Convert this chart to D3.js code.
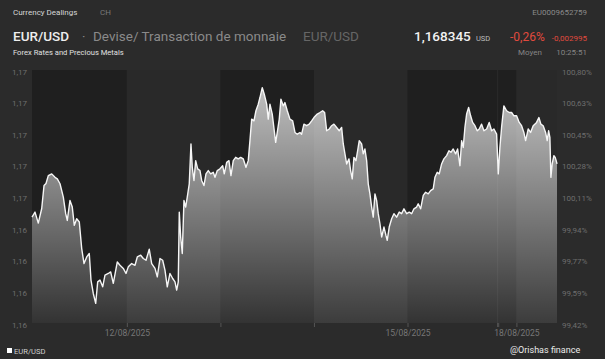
<!DOCTYPE html>
<html><head><meta charset="utf-8">
<script src="https://cdn.jsdelivr.net/npm/d3@7"></script>
<style>
html,body{margin:0;padding:0;background:#2b2b2b;}
svg{display:block;font-family:Roboto,"Open Sans",sans-serif;}
</style>
</head><body>
<svg id="chart" width="605" height="359"></svg>
<script>
// ---------------- data ----------------
const sessions = [["2025-08-10T23:40","2025-08-15T23:00"],["2025-08-17T19:20","2025-08-18T10:25"]];
const sessionDays = [["2025-08-11","2025-08-12","2025-08-13","2025-08-14","2025-08-15"],["2025-08-17","2025-08-18"]];
const tickLabelDays = ["12/08/2025","15/08/2025","18/08/2025"];
const basePrice = 1.165;
const pctDomain = [99.42, 100.80];
const pctLabels = ["99,42%","99,59%","99,77%","99,94%","100,11%","100,28%","100,45%","100,63%","100,80%"];
// hours elapsed since 11/08/2025 00:00
const hoursFromAug11 = [
-0.33,0.44,1.28,2.16,2.75,3.26,3.85,4.72,5.57,6.16,
6.85,7.70,8.31,8.72,9.41,10.00,10.52,11.13,11.80,12.42,
13.01,13.70,14.36,14.80,15.39,16.01,16.52,17.11,17.80,18.39,
19.24,19.85,20.52,21.55,22.24,23.09,23.78,24.37,25.24,26.09,
26.68,27.55,28.22,28.91,29.75,30.37,31.22,31.81,32.50,33.19,
33.78,34.37,35.06,35.76,36.35,36.78,37.19,37.45,37.81,38.22,
38.65,39.09,39.50,40.01,40.45,40.78,41.22,41.66,42.17,42.76,
43.19,43.78,44.30,44.89,45.50,46.17,46.61,47.20,47.89,48.58,
48.99,49.61,50.20,50.71,51.30,51.92,52.58,53.20,53.87,54.56,
55.15,55.58,56.02,56.61,57.12,57.71,58.15,58.74,59.25,59.87,
60.28,60.71,61.30,61.82,62.18,62.59,63.10,63.53,64.13,64.56,
65.15,65.84,66.54,67.13,67.72,68.41,68.84,69.43,70.13,70.79,
71.41,72.00,72.85,73.54,74.23,74.74,75.26,75.92,76.54,77.13,
77.82,78.49,79.10,79.52,79.95,80.39,80.98,81.41,81.82,82.26,
82.77,83.21,83.62,84.23,84.65,85.08,85.52,85.93,86.36,86.80,
87.21,87.65,88.08,88.49,88.93,89.37,89.96,90.47,90.80,91.31,
91.93,92.52,93.21,93.88,94.49,95.09,95.78,96.44,97.06,97.65,
98.34,98.75,99.37,100.04,100.65,101.32,101.93,102.60,103.04,103.63,
104.14,104.75,105.34,106.04,106.63,107.14,107.73,108.35,108.86,109.45,
109.89,110.30,110.73,111.17,111.68,112.19,112.71,113.30,113.89,114.40,
115.01,115.60,116.30,116.96,117.58,118.17,118.86,
163.35,163.77,164.20,164.79,165.49,166.15,166.77,167.36,168.05,168.72,
169.33,169.92,170.36,171.03,171.64,172.31,173.18,173.77,174.28,174.87,
175.49,175.90,176.26,176.59,176.85,177.18,177.62,177.95,178.21,178.42
];
const eurusd = [
1.16497,1.16529,1.16459,1.16552,1.16698,1.16711,1.16761,1.16772,1.16750,1.16740,
1.16709,1.16624,1.16519,1.16476,1.16603,1.16561,1.16445,1.16487,1.16466,1.16297,
1.16202,1.16244,1.16266,1.16097,1.16012,1.15949,1.16086,1.16097,1.16054,1.16128,
1.16139,1.16149,1.16076,1.16212,1.16191,1.16171,1.16139,1.16181,1.16202,1.16191,
1.16244,1.16255,1.16234,1.16223,1.16293,1.16202,1.16171,1.16117,1.16234,1.16223,
1.16160,1.16054,1.16139,1.16107,1.16086,1.16033,1.16086,1.16529,1.16371,1.16266,
1.16603,1.16561,1.16624,1.16709,1.16962,1.16814,1.16730,1.16856,1.16804,1.16793,
1.16730,1.16698,1.16772,1.16793,1.16772,1.16782,1.16750,1.16793,1.16804,1.16824,
1.16772,1.16845,1.16856,1.16761,1.16856,1.16877,1.16867,1.16877,1.16867,1.16814,
1.16856,1.16983,1.17120,1.17109,1.17173,1.17215,1.17257,1.17320,1.17278,1.17215,
1.17120,1.17215,1.17152,1.17046,1.16972,1.17035,1.17120,1.17247,1.17204,1.17225,
1.17173,1.17120,1.17109,1.17035,1.17024,1.17035,1.17024,1.17088,1.17078,1.17088,
1.17109,1.17130,1.17152,1.17162,1.17173,1.17162,1.17046,1.17057,1.17078,1.17088,
1.17067,1.17046,1.17067,1.16962,1.16899,1.16835,1.16867,1.16793,1.16740,1.16877,
1.16856,1.16919,1.16983,1.16962,1.16899,1.16930,1.16856,1.16709,1.16645,1.16561,
1.16497,1.16645,1.16603,1.16519,1.16455,1.16371,1.16434,1.16381,1.16350,1.16434,
1.16487,1.16519,1.16497,1.16529,1.16519,1.16550,1.16519,1.16529,1.16519,1.16550,
1.16561,1.16582,1.16550,1.16635,1.16655,1.16645,1.16666,1.16677,1.16750,1.16782,
1.16772,1.16835,1.16867,1.16888,1.16919,1.16909,1.16930,1.16899,1.16930,1.16824,
1.16983,1.16940,1.17067,1.17152,1.17194,1.17141,1.17099,1.17078,1.17046,1.17057,
1.17088,1.17046,1.17057,1.17099,1.17046,1.17057,1.17025,
1.16772,1.16940,1.17067,1.17204,1.17173,1.17162,1.17162,1.17141,1.17141,1.17099,
1.17078,1.17035,1.16983,1.17057,1.17035,1.17078,1.17099,1.17130,1.17088,1.17078,
1.17035,1.16983,1.17046,1.17004,1.16750,1.16835,1.16888,1.16877,1.16856,1.16835
];

// ---------------- layout ----------------
const W = 605, H = 359;
const M = {left: 32, right: 557, top: 70, bottom: 323};
const svg = d3.select("#chart");
svg.append("rect").attr("width", W).attr("height", H).attr("fill", "#2b2b2b");

// trading-time (weekend compressed)
const HOUR = 3600e3, GAP = 0.27;
const parseT = d3.utcParse("%Y-%m-%dT%H:%M");
const parseD = d3.utcParse("%Y-%m-%d");
const S = sessions.map(([a, b]) => ({start: parseT(a), end: parseT(b)}));
let acc = 0;
S.forEach(s => { s.offset = acc; s.len = (s.end - s.start) / HOUR; acc += s.len + GAP; });
const totalHours = acc - GAP;
function tradingHours(date) {
  const s = S.find(s => date <= s.end) || S[S.length - 1];
  return s.offset + (date - s.start) / HOUR;
}
const base = parseT("2025-08-11T00:00");
const data = hoursFromAug11.map((h, i) => ({date: new Date(+base + h * HOUR), v: eurusd[i]}));

const x = d3.scaleLinear().domain([0, totalHours]).range([M.left, M.right]);
const y = d3.scaleLinear()
  .domain([basePrice * pctDomain[0] / 100, basePrice * pctDomain[1] / 100])
  .range([M.bottom, M.top]);

// day bands
const bands = [];
S.forEach((s, si) => {
  const days = sessionDays[si];
  days.forEach((d, j) => {
    const d0 = parseD(d);
    const start = j === 0 ? s.start : d0;
    const end = j === days.length - 1 ? s.end : d3.utcDay.offset(d0, 1);
    bands.push({start, end, day: d0.getUTCDate()});
  });
});
svg.append("g").selectAll("rect").data(bands).join("rect")
  .attr("x", d => x(tradingHours(d.start)))
  .attr("width", d => x(tradingHours(d.end)) - x(tradingHours(d.start)))
  .attr("y", M.top).attr("height", M.bottom - M.top)
  .attr("fill", d => d.day % 2 ? "#1f1f1f" : "#292929");

// area gradient
const defs = svg.append("defs");
const grad = defs.append("linearGradient").attr("id", "ag")
  .attr("gradientUnits", "userSpaceOnUse")
  .attr("x1", 0).attr("x2", 0).attr("y1", M.top).attr("y2", M.bottom);
grad.append("stop").attr("offset", "0%").attr("stop-color", "#ffffff").attr("stop-opacity", 0.76);
grad.append("stop").attr("offset", "100%").attr("stop-color", "#ffffff").attr("stop-opacity", 0.09);

const X = d => x(tradingHours(d.date));
svg.append("path").datum(data)
  .attr("fill", "url(#ag)")
  .attr("d", d3.area().x(X).y0(M.bottom).y1(d => y(d.v)));
svg.append("path").datum(data)
  .attr("fill", "none").attr("stroke", "#f6f6f6").attr("stroke-width", 1.4)
  .attr("stroke-linejoin", "round")
  .attr("d", d3.line().x(X).y(d => y(d.v)));

// x axis
const fmtDay = d3.utcFormat("%d/%m/%Y");
const xTicks = [];
S.forEach((s, si) => {
  if (si > 0) xTicks.push({date: s.start, label: false});
  sessionDays[si].forEach((d, j) => {
    if (j > 0) { const d0 = parseD(d); xTicks.push({date: d0, label: tickLabelDays.includes(fmtDay(d0))}); }
  });
  if (si < S.length - 1) xTicks.push({date: s.end, label: false});
});
const xAxis = svg.append("g").attr("transform", `translate(0,${M.bottom})`)
  .call(d3.axisBottom(x)
    .tickValues(xTicks.map(t => tradingHours(t.date)))
    .tickSize(4).tickPadding(3)
    .tickFormat((v, i) => xTicks[i].label ? fmtDay(xTicks[i].date) : ""));
xAxis.select(".domain").remove();
xAxis.selectAll(".tick line").attr("stroke", "#555");
xAxis.selectAll("text").attr("fill", "#777").attr("font-size", 8.5).attr("font-family", "Roboto");

// y axes
const [d0, d1] = y.domain();
const yTicks = d3.range(9).map(i => d0 + i * (d1 - d0) / 8);
const fmtP = v => d3.format(".2f")(v).replace(".", ",");
const yl = svg.append("g").attr("transform", `translate(27,0)`)
  .call(d3.axisLeft(y).tickValues(yTicks).tickSize(0).tickPadding(0).tickFormat(fmtP));
yl.select(".domain").remove();
yl.selectAll("text").attr("fill", "#6e6e6e").attr("font-size", 8).attr("font-family", "Roboto").attr("dy", "0.5em");
const yr = svg.append("g").attr("transform", `translate(${M.right},0)`)
  .call(d3.axisRight(y).tickValues(yTicks).tickSize(0).tickPadding(5).tickFormat((v, i) => pctLabels[i]));
yr.select(".domain").remove();
yr.selectAll("text").attr("fill", "#6e6e6e").attr("font-size", 8).attr("font-family", "Roboto").attr("dy", "0.5em");

// header texts
function txt(xp, yp, s, size, color, opts = {}) {
  const t = svg.append("text").attr("x", xp).attr("y", yp).text(s)
    .attr("font-size", size).attr("fill", color);
  if (opts.weight) t.attr("font-weight", opts.weight);
  if (opts.anchor) t.attr("text-anchor", opts.anchor);
  return t;
}
txt(13, 15, "Currency Dealings", 8, "#d6d6d6");
txt(100, 15, "CH", 8, "#7a7a7a");
txt(587, 15, "EU0009652759", 8, "#8a8a8a", {anchor: "end"});
txt(13, 40.5, "EUR/USD", 13.5, "#eeeeee", {weight: 500});
txt(82, 40.5, "·", 13, "#8a8a8a");
txt(93, 40.5, "Devise/ Transaction de monnaie", 13.5, "#8a8a8a");
txt(303, 40.5, "EUR/USD", 13.5, "#666666");
txt(414, 40.5, "1,168345", 13.5, "#f2f2f2", {weight: 500});
txt(476, 40.5, "USD", 7.5, "#bdbdbd");
txt(510, 40.5, "-0,26%", 12, "#e04a3e");
txt(587, 40.5, "-0,002995", 8, "#e04a3e", {anchor: "end"});
txt(13, 55, "Forex Rates and Precious Metals", 7.6, "#e0e0e0");
txt(518, 55, "Moyen", 8, "#858585");
txt(587, 55, "10:25:51", 8, "#858585", {anchor: "end"});

// legend + signature
svg.append("rect").attr("x", 7).attr("y", 348).attr("width", 5).attr("height", 5).attr("fill", "#ffffff");
txt(14, 353.5, "EUR/USD", 7.6, "#cfcfcf");
txt(510, 353, "@Orishas finance", 9, "#ececec");
</script>
</body></html>
